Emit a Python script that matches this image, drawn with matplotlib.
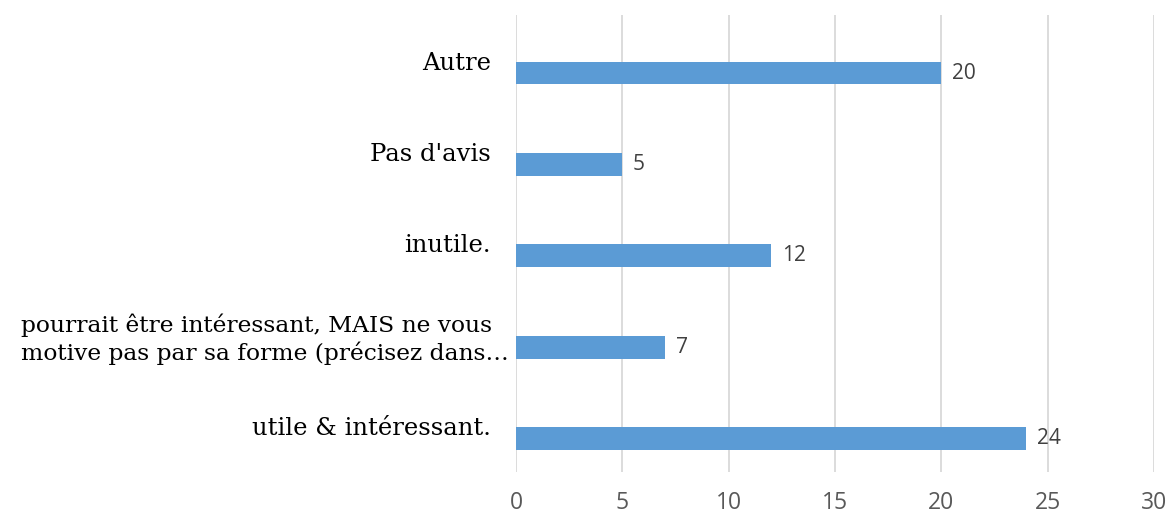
import matplotlib.pyplot as plt
from matplotlib.transforms import ScaledTranslation

categories = [
    "Autre",
    "Pas d'avis",
    "inutile.",
    "pourrait être intéressant, MAIS ne vous\nmotive pas par sa forme (précisez dans…",
    "utile & intéressant.",
]
values = [20, 5, 12, 7, 24]
xticks = [0, 5, 10, 15, 20, 25, 30]

bar_color = "#5B9BD5"

fig = plt.figure(figsize=(11.71, 5.22), dpi=100)
ax = fig.add_axes([0.4407, 0.0958, 0.5448, 0.8755])

pos = list(range(len(categories)))
# bars sit a bit below the category centre, like the original
bar_pos = [p + 0.135 for p in pos]
ax.barh(bar_pos, values, height=0.25, color=bar_color, zorder=3)

for y, v in zip(bar_pos, values):
    ax.text(v + 0.5, y, str(v), va="center", ha="left",
            fontsize=15, color="#404040", family="Open Sans")

ax.set_ylim(len(categories) - 0.5, -0.5)
ax.set_xlim(0, 30)
ax.set_xticks(xticks)
ax.set_yticks(pos)
ax.set_yticklabels(categories, family="DejaVu Serif", fontsize=17.5,
                   color="black", multialignment="left")
for lbl in ax.get_xticklabels():
    lbl.set_family("Open Sans")
    lbl.set_fontsize(16.5)
    lbl.set_color("#595959")

ax.tick_params(axis="x", length=0, pad=14)
ax.tick_params(axis="y", length=0, pad=18)
ax.grid(axis="x", color="#D9D9D9", linewidth=1.3, zorder=0)
for s in ax.spines.values():
    s.set_visible(False)

# the long two-line label is a bit smaller and pushed right, as in the original
long_lbl = ax.get_yticklabels()[3]
long_lbl.set_fontsize(16.8)
long_lbl.set_transform(long_lbl.get_transform()
                       + ScaledTranslation(0.18, 0, fig.dpi_scale_trans))

fig.savefig("out.png", dpi=100)
